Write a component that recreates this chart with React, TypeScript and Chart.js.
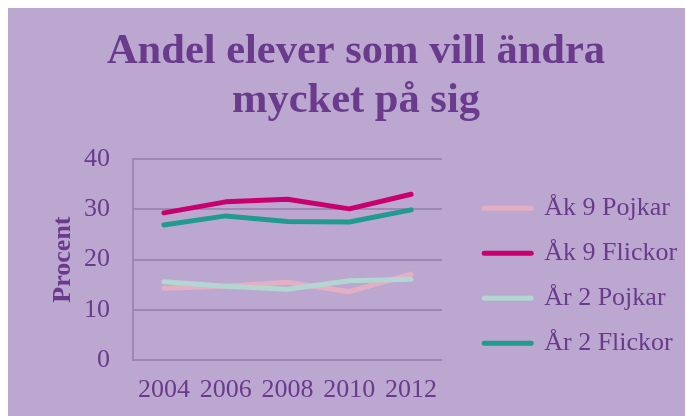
import React, { useEffect, useRef } from 'react';
import { Chart, registerables } from 'chart.js';

Chart.register(...registerables);

const categories = ['2004', '2006', '2008', '2010', '2012'];
const ak9Pojkar = [14.3, 14.7, 15.5, 13.6, 17.1];
const ak9Flickor = [29.3, 31.5, 32.0, 30.1, 33.0];
const ar2Pojkar = [15.6, 14.7, 14.1, 15.8, 16.1];
const ar2Flickor = [26.9, 28.7, 27.6, 27.5, 29.9];
const seriesLabels = ['Åk 9 Pojkar', 'Åk 9 Flickor', 'År 2 Pojkar', 'År 2 Flickor'];
const seriesColors = ['#E3AFC3', '#C8006F', '#B2D6D1', '#219B8F'];
const titleLines = ['Andel elever som vill ändra', 'mycket på sig'];
const yAxisTitle = 'Procent';
const yMin = 0;
const yMax = 40;
const yStep = 10;

const FONT = '"Liberation Serif", "Times New Roman", serif';
const TEXT = '#6A3A8D';
const GRID = '#9C89B1';
const BG = '#BBA7CF';

export default function App() {
  const ref = useRef<HTMLCanvasElement | null>(null);

  useEffect(() => {
    if (!ref.current) return;
    const values = [ak9Pojkar, ak9Flickor, ar2Pojkar, ar2Flickor];
    const defaultGen = (Chart.defaults as any).plugins.legend.labels.generateLabels;
    const chart = new Chart(ref.current, {
      type: 'line',
      data: {
        labels: categories,
        datasets: values.map((v, i) => ({
          label: seriesLabels[i],
          data: v,
          borderColor: seriesColors[i],
          backgroundColor: seriesColors[i],
          borderWidth: 5,
          borderCapStyle: 'round',
          borderJoinStyle: 'round',
          pointRadius: 0,
          pointHoverRadius: 0,
          pointBorderWidth: 5,
          tension: 0,
          fill: false,
          yAxisID: 'y',
          order: values.length - i,
        })),
      },
      options: {
        animation: false,
        responsive: true,
        maintainAspectRatio: false,
        layout: { padding: { left: 16.9, right: 5.9, top: 0, bottom: 9.9 } },
        plugins: {
          tooltip: { enabled: false },
          title: {
            display: true,
            text: titleLines,
            color: TEXT,
            font: { family: FONT, size: 42.5, weight: 'bold', lineHeight: 1.136 },
            padding: { top: 20.2, bottom: 34.4 },
          },
          legend: {
            position: 'right',
            align: 'center',
            maxWidth: 400,
            title: {
              display: true,
              text: '',
              font: { family: FONT, size: 26 },
              padding: { top: 106.3, bottom: 0 },
            },
            labels: {
              usePointStyle: true,
              pointStyle: 'line',
              pointStyleWidth: 47,
              padding: 19,
              color: TEXT,
              font: { family: FONT, size: 26 },
              sort: (a: any, b: any) => a.datasetIndex - b.datasetIndex,
              generateLabels: (c: any) =>
                defaultGen(c).map((it: any) => ({
                  ...it,
                  lineWidth: 5,
                  lineCap: 'round',
                  strokeStyle: seriesColors[it.datasetIndex],
                  fillStyle: seriesColors[it.datasetIndex],
                })),
            },
          },
        },
        scales: {
          x: {
            type: 'category',
            offset: true,
            grid: { display: false, drawTicks: false },
            border: { display: false },
            ticks: {
              color: TEXT,
              font: { family: FONT, size: 26 },
              padding: 14.9,
              maxRotation: 0,
              autoSkip: false,
            },
            afterFit: (s: any) => {
              s.height = 46.1;
            },
          },
          y: {
            type: 'linear',
            position: 'left',
            min: yMin,
            max: yMax,
            grid: { color: GRID, lineWidth: 2, drawTicks: false },
            border: { display: true, color: GRID, width: 2 },
            ticks: {
              stepSize: yStep,
              color: TEXT,
              font: { family: FONT, size: 26 },
              padding: 23,
            },
            title: {
              display: true,
              text: yAxisTitle,
              color: TEXT,
              font: { family: FONT, size: 26, weight: 'bold' },
              padding: { top: 22.5, bottom: 2 },
            },
            afterFit: (s: any) => {
              s.width = 108.1;
            },
          },
          yR: {
            type: 'linear',
            position: 'right',
            display: true,
            grid: { display: false, drawTicks: false },
            border: { display: false },
            ticks: { display: false },
            afterFit: (s: any) => {
              s.width = 23.2;
            },
          },
        },
      } as any,
    });
    return () => chart.destroy();
  }, []);

  return (
    <div style={{ width: 685, height: 408, background: BG, position: 'relative' }}>
      <canvas ref={ref} />
    </div>
  );
}
